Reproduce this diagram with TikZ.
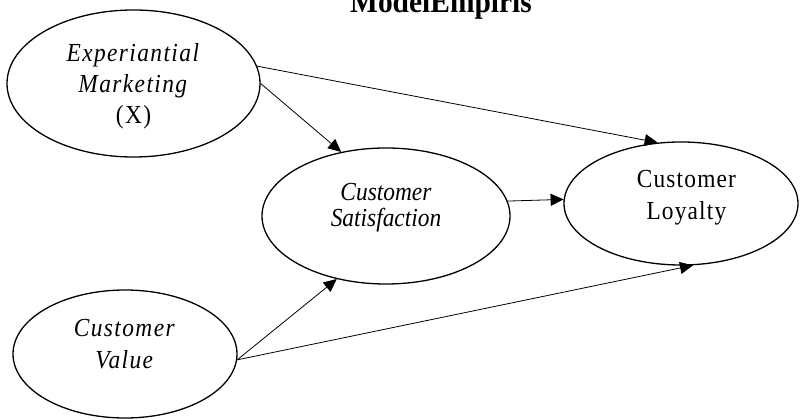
\documentclass[tikz,border=0pt]{standalone}
\usepackage{fontspec}
\setmainfont{Liberation Serif}
\newfontfamily\wideserif[LetterSpace=6]{Liberation Serif}
\newfontfamily\midserif[LetterSpace=5]{Liberation Serif}
\usetikzlibrary{shapes.geometric,arrows.meta}

\begin{document}
\begin{tikzpicture}[x=1pt, y=1pt,
        var/.style={draw, ellipse, line width=1.3pt, inner sep=0pt},
        lbl/.style={align=center, xscale=0.9, transform shape, font=\fontsize{26}{31}\wideserif},
        link/.style={-{Triangle[length=13pt,width=12pt]}, line width=0.8pt}]
    \useasboundingbox (0,0) rectangle (801,420);

    \node[anchor=base, xscale=0.92, transform shape, font=\fontsize{32}{33}\selectfont\bfseries] (title) at (441,407) {ModelEmpiris};

    \node[var, minimum width=253pt, minimum height=147pt,
        label={[lbl, yshift=-3pt]center:{\textit{Experiantial}\\\textit{Marketing}\\(X)}}] (em) at (133.5,336.5) {};
    \node[var, minimum width=248pt, minimum height=136pt,
        label={[lbl, font=\fontsize{26}{26}\selectfont, yshift=8pt]center:{\textit{Customer}\\\textit{Satisfaction}}}] (cs) at (386,204) {};
    \node[var, minimum width=234pt, minimum height=123pt,
        label={[lbl, font=\fontsize{26}{32}\midserif, xshift=6pt, yshift=6pt]center:{Customer\\Loyalty}}] (cl) at (681,216.5) {};
    \node[var, minimum width=224pt, minimum height=128pt,
        label={[lbl, font=\fontsize{26}{32}\wideserif, yshift=10pt]center:{\textit{Customer}\\\textit{Value}}}] (cv) at (125,66) {};

    \draw[link] (em.8) -- (cl.111);
    \draw[link] (em.east) -- (cs.125);
    \draw[link] (cs.7) -- (cl.178);
    \draw[link] (cv.-3) -- (cs.-128);
    \draw[link] (cv.-3) -- (cl.-79);
\end{tikzpicture}
\end{document}
